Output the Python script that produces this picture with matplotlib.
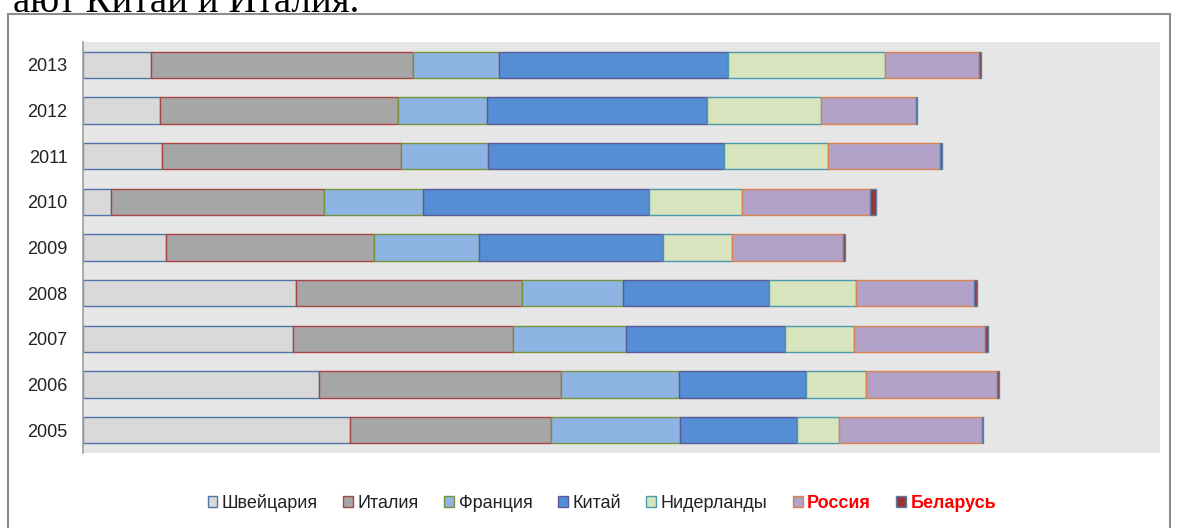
import matplotlib.pyplot as plt
from matplotlib.patches import Rectangle

# segment widths per year (arbitrary units)
years = ['2005', '2006', '2007', '2008', '2009', '2010', '2011', '2012', '2013']
countries = ['Швейцария', 'Италия', 'Франция', 'Китай', 'Нидерланды', 'Россия', 'Беларусь']

switzerland = [267, 236, 210, 213, 83, 28, 79, 77, 68]
italy = [201, 242, 220, 226, 208, 213, 239, 238, 262]
france = [129, 118, 113, 101, 105, 99, 87, 89, 86]
china = [117, 127, 159, 146, 184, 226, 236, 220, 229]
netherlands = [42, 60, 69, 87, 69, 93, 104, 114, 157]
russia = [143, 131, 131, 118, 111, 128, 112, 95, 94]
belarus = [1, 2, 3, 3, 1.5, 6, 2, 1, 1.5]

series = [switzerland, italy, france, china, netherlands, russia, belarus]

fills = ['#d9d9d9', '#a6a6a6', '#8eb4e3', '#558ed5', '#d7e4bd', '#b3a2c7', '#953735']
edges = ['#4f75a8', '#a94442', '#77933c', '#5a5a96', '#4a9aab', '#d9824a', '#5f7ba3']

plt.rcParams['font.family'] = ['Liberation Sans', 'DejaVu Sans']

fig = plt.figure(figsize=(11.79, 5.28), dpi=100)
ax = fig.add_axes([83 / 1179, 75 / 528, 1077 / 1179, 411 / 528])
ax.set_facecolor('#e6e6e6')

ypos = list(range(len(years)))
left = [0] * len(years)
for name, vals, fc, ec in zip(countries, series, fills, edges):
    ax.barh(ypos, vals, left=left, height=0.57, color=fc, edgecolor=ec,
            linewidth=1.0, label=name)
    left = [a + b for a, b in zip(left, vals)]

ax.set_xlim(0, 1077)
ax.set_ylim(-0.5, len(years) - 0.5)
ax.set_yticks(ypos)
ax.set_yticklabels(years, fontsize=13, color='#222222')
ax.set_xticks([])
ax.tick_params(axis='y', length=0, pad=11)
for s in ['top', 'right', 'bottom']:
    ax.spines[s].set_visible(False)
ax.spines['left'].set_color('#a0a0a0')
ax.spines['left'].set_linewidth(1.2)

leg = fig.legend(loc='center', bbox_to_anchor=(602 / 1179, 1 - 503 / 528),
                 ncol=7, frameon=False, fontsize=13, handlelength=0.55,
                 handleheight=0.55, handletextpad=0.25, columnspacing=1.4)
for t in leg.get_texts():
    t.set_color('#222222')
for t in leg.get_texts()[5:]:
    t.set_color('#ff0000')
    t.set_fontweight('bold')

# outer frame of the pasted chart
fig.patches.append(Rectangle((8 / 1179, -0.1), 1162 / 1179, 1.1 - 14 / 528,
                             transform=fig.transFigure, fill=False,
                             edgecolor='#8c8c8c', linewidth=1.5))

# text of the page above, cut off at the top
fig.text(13 / 1179, 1 - 12 / 528, 'ают Китай и Италия.', fontsize=28,
         family=['Liberation Serif', 'DejaVu Serif'], va='baseline', ha='left')

fig.savefig('out.png', dpi=100)
